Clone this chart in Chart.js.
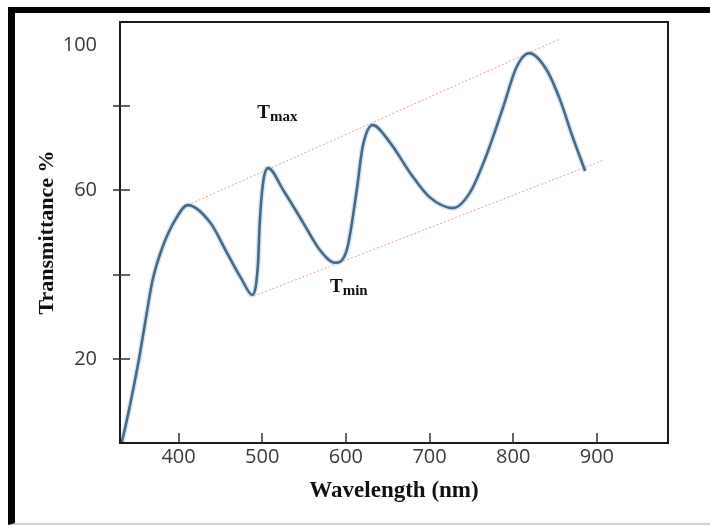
<!DOCTYPE html>
<html>
<head>
<meta charset="utf-8">
<script src="https://cdn.jsdelivr.net/npm/chart.js@4.4.1/dist/chart.umd.min.js"></script>
<style>
  html, body { margin: 0; padding: 0; background: #fff; }
  #wrap { position: relative; width: 710px; height: 525px; overflow: hidden; }
  #edge {
    position: absolute; left: 8px; top: 7px; right: -20px; bottom: 0;
    border-left: 7px solid #000; border-top: 6px solid #000; border-bottom: 2px solid #d0d0d0;
  }
  canvas { position: absolute; left: 0; top: 0; }
</style>
</head>
<body>
<div id="wrap">
  <div id="edge"></div>
  <canvas id="chart" width="710" height="525"></canvas>
</div>
<script>
// transmittance curve
const wavelength = [332, 340, 348, 354, 362, 369, 381, 396, 411, 438, 458, 476, 488, 495, 497, 501, 507,
  525, 549, 569, 587, 601, 613, 620, 632, 653, 677, 700, 728, 748, 769, 788, 804, 819, 840, 856, 871, 886];
const transmittance = [0, 7.1, 15.0, 21.4, 30.9, 38.7, 46.6, 53.0, 56.5, 52.3, 45.1, 38.7, 35.2, 42.8, 52.3, 61.8, 65.3,
  60.1, 52.3, 45.8, 42.8, 45.8, 60.1, 70.3, 75.5, 71.3, 64.1, 58.4, 55.8, 59.4, 68.9, 79.8, 89.3, 92.6, 88.6, 81.5, 72.7, 64.6];

// envelope lines
const tmaxWavelength = [411, 856];
const tmaxValues = [56.5, 96.0];
const tminWavelength = [490, 908];
const tminValues = [34.9, 67.2];

// axes
const xTicks = [400, 500, 600, 700, 800, 900];
const yMarks = [20, 40, 60, 80];
// the "100" label sits below the top edge in the original
const yTickValues = [20, 40, 60, 80, 94.5];
const yTickLabels = ['20', '', '60', '', '100'];

// T_max / T_min notes
const noteMain = ['T', 'T'];
const noteSub = ['max', 'min'];
const noteX = [494, 581];
const noteY = [77.2, 35.9];

const toPoints = (xs, ys) => xs.map((v, i) => ({ x: v, y: ys[i] }));

const extras = {
  id: 'extras',
  afterDatasetsDraw(chart) {
    const { ctx, chartArea: a, scales: { x, y } } = chart;
    ctx.save();
    ctx.strokeStyle = '#1a1a1a';
    ctx.lineWidth = 2;
    ctx.strokeRect(a.left, a.top, a.right - a.left, a.bottom - a.top);

    ctx.strokeStyle = '#333';
    ctx.lineWidth = 1.5;
    ctx.beginPath();
    xTicks.forEach(v => {
      const px = Math.round(x.getPixelForValue(v));
      ctx.moveTo(px, a.bottom);
      ctx.lineTo(px, a.bottom - 10);
    });
    yMarks.forEach(v => {
      const py = Math.round(y.getPixelForValue(v));
      ctx.moveTo(a.left - 7, py);
      ctx.lineTo(a.left + 10, py);
    });
    ctx.stroke();

    ctx.fillStyle = '#111';
    ctx.textBaseline = 'alphabetic';
    noteMain.forEach((t, i) => {
      const px = x.getPixelForValue(noteX[i]);
      const py = y.getPixelForValue(noteY[i]);
      ctx.font = 'bold 19px "Liberation Serif"';
      ctx.fillText(t, px, py);
      const w = ctx.measureText(t).width;
      ctx.font = 'bold 15px "Liberation Serif"';
      ctx.fillText(noteSub[i], px + w, py + 3);
    });
    ctx.restore();
  }
};

const curve = toPoints(wavelength, transmittance);

new Chart(document.getElementById('chart'), {
  type: 'line',
  data: {
    datasets: [
      {
        label: 'Transmittance',
        data: curve,
        borderColor: '#4b6884',
        borderWidth: 2.6,
        pointRadius: 0,
        cubicInterpolationMode: 'monotone',
        fill: false
      },
      {
        label: 'halo',
        data: curve,
        borderColor: 'rgba(165, 205, 235, 0.45)',
        borderWidth: 5.5,
        pointRadius: 0,
        cubicInterpolationMode: 'monotone',
        fill: false
      },
      {
        label: 'Tmax',
        data: toPoints(tmaxWavelength, tmaxValues),
        borderColor: '#ec9a9a',
        borderWidth: 1,
        borderDash: [2, 2],
        pointRadius: 0,
        fill: false
      },
      {
        label: 'Tmin',
        data: toPoints(tminWavelength, tminValues),
        borderColor: '#ec9a9a',
        borderWidth: 1,
        borderDash: [2, 2],
        pointRadius: 0,
        fill: false
      }
    ]
  },
  options: {
    responsive: false,
    animation: false,
    layout: { padding: { left: 0, top: 22, right: 42, bottom: 0 } },
    plugins: { legend: { display: false }, tooltip: { enabled: false } },
    scales: {
      x: {
        type: 'linear',
        min: 330,
        max: 985,
        afterBuildTicks: s => { s.ticks = xTicks.map(v => ({ value: v })); },
        afterFit: s => { s.height = 82; s.paddingLeft = 0; s.paddingRight = 0; },
        grid: { display: false, drawTicks: false },
        border: { display: false },
        ticks: {
          padding: 2,
          maxRotation: 0,
          autoSkip: false,
          color: '#3a3a3a',
          font: { family: 'Open Sans', size: 20 },
          callback: v => String(v)
        },
        title: {
          display: true,
          text: 'Wavelength (nm)',
          color: '#111',
          font: { family: 'Liberation Serif', size: 23, weight: 'bold' },
          padding: { top: 0, bottom: 20 }
        }
      },
      y: {
        type: 'linear',
        min: 0,
        max: 100,
        afterBuildTicks: s => { s.ticks = yTickValues.map(v => ({ value: v })); },
        afterFit: s => { s.width = 120; s.paddingTop = 0; s.paddingBottom = 0; },
        grid: { display: false, drawTicks: false },
        border: { display: false },
        ticks: {
          padding: 23,
          autoSkip: false,
          color: '#3a3a3a',
          font: { family: 'Open Sans', size: 20 },
          callback: (v, i) => yTickLabels[i]
        },
        title: {
          display: true,
          text: 'Transmittance %',
          color: '#111',
          font: { family: 'Liberation Serif', size: 22, weight: 'bold' },
          padding: { top: 34, bottom: 0 }
        }
      }
    }
  },
  plugins: [extras]
});
</script>
</body>
</html>
